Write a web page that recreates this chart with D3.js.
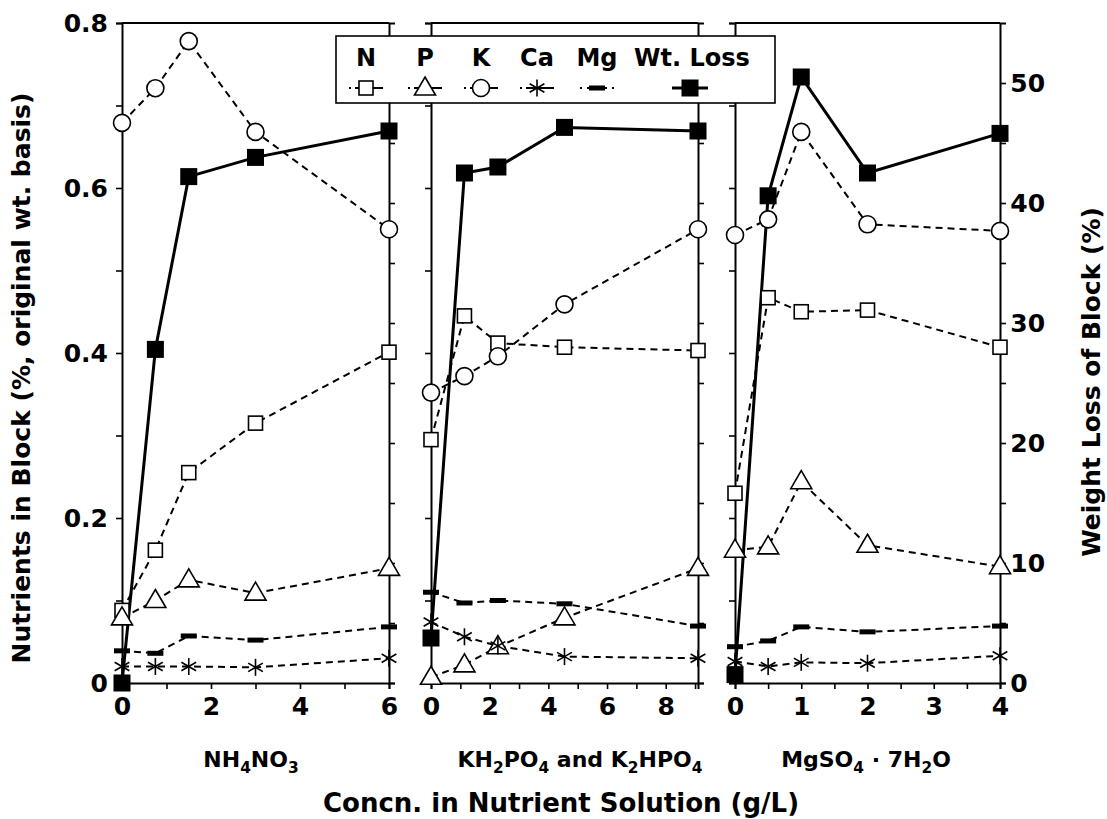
<!DOCTYPE html>
<html>
<head>
<meta charset="utf-8">
<script src="https://cdn.jsdelivr.net/npm/d3@7"></script>
<style>
  body { margin: 0; background: #fff; }
  text { font-family: "DejaVu Sans", Arial, sans-serif; font-weight: bold; fill: #000; }
</style>
</head>
<body>
<svg id="chart" width="1107" height="819"></svg>
<script>
// nutrient series
const nutrients = ["N", "P", "K", "Ca", "Mg"];

const nh4Conc = [0, 0.75, 1.5, 3, 6];
const nh4N = [0.088, 0.161, 0.255, 0.315, 0.401];
const nh4P = [0.079, 0.10, 0.125, 0.109, 0.139];
const nh4K = [0.679, 0.721, 0.778, 0.668, 0.55];
const nh4Ca = [0.02, 0.02, 0.02, 0.019, 0.03];
const nh4Mg = [0.039, 0.036, 0.057, 0.052, 0.068];
const nh4Loss = [0, 27.8, 42.2, 43.8, 46.0];

const kpConc = [0, 1.14, 2.28, 4.55, 9.1];
const kpN = [0.295, 0.445, 0.412, 0.407, 0.403];
const kpP = [0.007, 0.022, 0.044, 0.079, 0.139];
const kpK = [0.352, 0.372, 0.396, 0.459, 0.55];
const kpCa = [0.074, 0.056, 0.045, 0.032, 0.03];
const kpMg = [0.11, 0.097, 0.10, 0.096, 0.069];
const kpLoss = [3.75, 42.5, 43.0, 46.3, 46.0];

const mgConc = [0, 0.5, 1, 2, 4];
const mgN = [0.23, 0.467, 0.45, 0.452, 0.407];
const mgP = [0.161, 0.165, 0.244, 0.167, 0.141];
const mgK = [0.543, 0.562, 0.668, 0.556, 0.548];
const mgCa = [0.026, 0.02, 0.025, 0.024, 0.033];
const mgMg = [0.044, 0.051, 0.068, 0.062, 0.069];
const mgLoss = [0.7, 40.6, 50.5, 42.5, 45.8];

const nutrientTicks = [0, 0.1, 0.2, 0.3, 0.4, 0.5, 0.6, 0.7, 0.8];
const lossTicks = [0, 5, 10, 15, 20, 25, 30, 35, 40, 45, 50];

const svg = d3.select("#chart");

const yTop = 23, yBottom = 683;
const yN = d3.scaleLinear().domain([0, 0.8]).range([yBottom, yTop]);
const yW = d3.scaleLinear().domain([0, 55]).range([yBottom, yTop]);

const panels = [
  {
    conc: nh4Conc, series: [nh4N, nh4P, nh4K, nh4Ca, nh4Mg], loss: nh4Loss,
    domain: [0, 6], range: [122, 389], labelX: 251,
    xTicks: [0, 1, 2, 3, 4, 5, 6], xLabels: [0, 2, 4, 6],
    title: [["NH", 0], ["4", 1], ["NO", 0], ["3", 1]]
  },
  {
    conc: kpConc, series: [kpN, kpP, kpK, kpCa, kpMg], loss: kpLoss,
    domain: [0, 9.1], range: [431, 698], labelX: 580,
    xTicks: [0, 1, 2, 3, 4, 5, 6, 7, 8, 9], xLabels: [0, 2, 4, 6, 8],
    title: [["KH", 0], ["2", 1], ["PO", 0], ["4", 1], [" and K", 0], ["2", 1], ["HPO", 0], ["4", 1]]
  },
  {
    conc: mgConc, series: [mgN, mgP, mgK, mgCa, mgMg], loss: mgLoss,
    domain: [0, 4], range: [735, 1000], labelX: 866,
    xTicks: [0, 0.5, 1, 1.5, 2, 2.5, 3, 3.5, 4], xLabels: [0, 1, 2, 3, 4],
    title: [["MgSO", 0], ["4", 1], [" \u00b7 7H", 0], ["2", 1], ["O", 0]]
  }
];

// draws one marker of a series at (x, y)
function marker(g, type, x, y) {
  if (type === "N") {
    g.append("rect").attr("x", x - 7).attr("y", y - 7).attr("width", 14).attr("height", 14)
      .attr("fill", "#fff").attr("stroke", "#000").attr("stroke-width", 1.6);
  } else if (type === "P") {
    g.append("path").attr("d", `M${x},${y - 11}L${x + 10.5},${y + 7}L${x - 10.5},${y + 7}Z`)
      .attr("fill", "#fff").attr("stroke", "#000").attr("stroke-width", 1.6);
  } else if (type === "K") {
    g.append("circle").attr("cx", x).attr("cy", y).attr("r", 8.5)
      .attr("fill", "#fff").attr("stroke", "#000").attr("stroke-width", 1.6);
  } else if (type === "Ca") {
    const r = 8.5;
    [90, 30, 150].forEach((a) => {
      const dx = r * Math.cos(a * Math.PI / 180), dy = r * Math.sin(a * Math.PI / 180);
      g.append("line").attr("x1", x - dx).attr("y1", y - dy).attr("x2", x + dx).attr("y2", y + dy)
        .attr("stroke", "#000").attr("stroke-width", 1.6);
    });
  } else if (type === "Mg") {
    g.append("rect").attr("x", x - 8).attr("y", y - 2.5).attr("width", 16).attr("height", 5).attr("fill", "#000");
  } else {
    g.append("rect").attr("x", x - 8.5).attr("y", y - 8.5).attr("width", 17).attr("height", 17).attr("fill", "#000");
  }
}

function richText(sel, parts, size) {
  parts.forEach(([s, sub], k) => {
    const prevSub = k > 0 && parts[k - 1][1];
    sel.append("tspan")
      .attr("font-size", sub ? size * 0.7 : size)
      .attr("dy", sub && !prevSub ? size * 0.25 : (!sub && prevSub ? -size * 0.25 : 0))
      .text(s);
  });
}

panels.forEach((p, i) => {
  const x = d3.scaleLinear().domain(p.domain).range(p.range);
  const g = svg.append("g");

  // frame top
  g.append("line").attr("x1", p.range[0]).attr("x2", p.range[1]).attr("y1", yTop).attr("y2", yTop)
    .attr("stroke", "#000").attr("stroke-width", 2);

  const xAxis = g.append("g").attr("transform", `translate(0,${yBottom})`)
    .call(d3.axisBottom(x).tickValues(p.xTicks).tickSizeOuter(0).tickSize(6)
      .tickFormat((d) => (p.xLabels.includes(d) ? d : "")));
  xAxis.selectAll("text").attr("font-size", 25).attr("dy", "0.9em");

  const left = g.append("g").attr("transform", `translate(${p.range[0]},0)`)
    .call(d3.axisLeft(yN).tickValues(nutrientTicks).tickSizeOuter(0).tickSize(6)
      .tickFormat((d) => (i === 0 && Math.round(d * 10) % 2 === 0 ? (d === 0 ? "0" : d3.format(".1f")(d)) : "")));
  left.selectAll("text").attr("font-size", 25).attr("dx", "-0.2em");

  const right = g.append("g").attr("transform", `translate(${p.range[1]},0)`)
    .call(d3.axisRight(yW).tickValues(lossTicks).tickSizeOuter(0).tickSize(6)
      .tickFormat((d) => (i === 2 && d % 10 === 0 ? d : "")));
  right.selectAll("text").attr("font-size", 25).attr("dx", "0.05em");

  [xAxis, left, right].forEach((a) => {
    a.select(".domain").attr("stroke-width", 2);
    a.selectAll(".tick line").attr("stroke-width", 1.6);
    a.selectAll(".tick text").filter(function () { return this.textContent === ""; }).remove();
  });

  // dashed nutrient lines
  p.series.forEach((vals) => {
    const line = d3.line().x((d, j) => x(p.conc[j])).y((d) => yN(d));
    g.append("path").attr("d", line(vals)).attr("fill", "none").attr("stroke", "#000")
      .attr("stroke-width", 2).attr("stroke-dasharray", "7,5");
  });
  // weight loss line
  const lossLine = d3.line().x((d, j) => x(p.conc[j])).y((d) => yW(d));
  g.append("path").attr("d", lossLine(p.loss)).attr("fill", "none").attr("stroke", "#000").attr("stroke-width", 3);

  p.series.forEach((vals, k) => {
    vals.forEach((v, j) => marker(g, nutrients[k], x(p.conc[j]), yN(v)));
  });
  p.loss.forEach((v, j) => marker(g, "Loss", x(p.conc[j]), yW(v)));

  const t = svg.append("text").attr("x", p.labelX).attr("y", 767)
    .attr("text-anchor", "middle");
  richText(t, p.title, 22);
});

// legend
const legend = svg.append("g");
legend.append("rect").attr("x", 336).attr("y", 36).attr("width", 439).attr("height", 67)
  .attr("fill", "#fff").attr("stroke", "#000").attr("stroke-width", 1.6);
const legendX = [366, 425, 481, 537, 597];
nutrients.forEach((n, k) => {
  legend.append("text").attr("x", legendX[k]).attr("y", 66).attr("text-anchor", "middle")
    .attr("font-size", 24).text(n);
  legend.append("path").attr("d", `M${legendX[k] - 17},88H${legendX[k] + 17}`)
    .attr("stroke", "#000").attr("stroke-width", 2).attr("stroke-dasharray", n === "Mg" ? "2,5,20,5,2" : "2,4,30");
  marker(legend, n, legendX[k], 88);
});
legend.append("text").attr("x", 692).attr("y", 66).attr("text-anchor", "middle").attr("font-size", 24).text("Wt. Loss");
legend.append("path").attr("d", "M672,88H708").attr("stroke", "#000").attr("stroke-width", 3);
marker(legend, "Loss", 690, 88);

// axis titles
svg.append("text").attr("transform", "translate(30,378) rotate(-90)").attr("text-anchor", "middle")
  .attr("font-size", 25).text("Nutrients in Block (%, original wt. basis)");
svg.append("text").attr("transform", "translate(1100,382) rotate(-90)").attr("text-anchor", "middle")
  .attr("font-size", 25).text("Weight Loss of Block (%)");
svg.append("text").attr("x", 561).attr("y", 812).attr("text-anchor", "middle")
  .attr("font-size", 26).text("Concn. in Nutrient Solution (g/L)");
</script>
</body>
</html>
